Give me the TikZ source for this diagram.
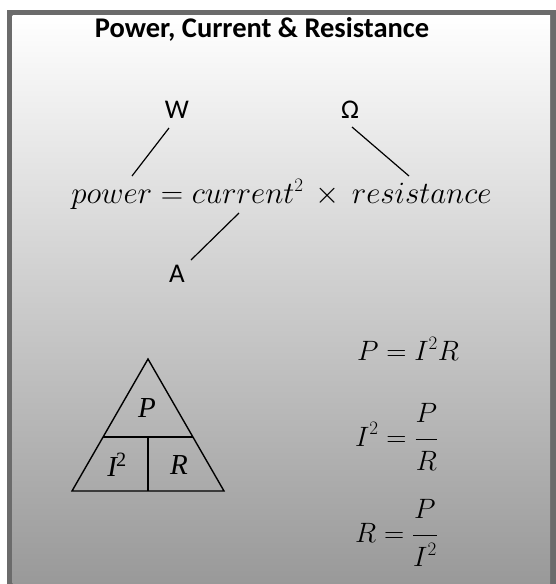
\documentclass[tikz,border=0pt]{standalone}
\usepackage{fix-cm}
\usepackage{fontspec}
\setmainfont{Carlito}
\newfontfamily\timesfont{Liberation Serif}
\newcommand{\sqtwo}{^{\mbox{\fontsize{19}{22}\selectfont$2$}}}
\newcommand{\upfr}[1]{\raisebox{5pt}{$\displaystyle #1$}}
\newcommand{\dnfr}[1]{\raisebox{-5pt}{$\displaystyle #1$}}
\begin{document}
\begin{tikzpicture}[x=1pt,y=-1pt,
  unit/.style={font=\fontsize{27}{32}\selectfont, inner sep=0pt},
  eqn/.style={font=\fontsize{31}{37}\selectfont, inner sep=0pt},
  eqr/.style={font=\fontsize{28}{34}\selectfont, inner sep=0pt},
  tri/.style={font=\fontsize{29}{34}\selectfont\timesfont\itshape, inner sep=0pt},
  link/.style={line width=1.2pt, black},
  triline/.style={line width=1.4pt, black, line join=miter}]
\definecolor{framegray}{HTML}{6B6B6B}
\definecolor{bottomgray}{HTML}{999999}
\useasboundingbox (0,0) rectangle (555,584);
\fill[white] (0,0) rectangle (555,584);
\fill[framegray] (7,10) rectangle (562,590);
\shade[top color=white, bottom color=bottomgray] (12.5,15) rectangle (550,584);
% title
\node[anchor=base, inner sep=0pt, font=\fontsize{28.5}{34}\selectfont\bfseries] (title) at (262,37) {Power, Current \& Resistance};
% units
\node[unit, anchor=base] (W) at (177,118) {W};
\node[unit, anchor=base] (Om) at (350,118) {Ω};
\node[unit, anchor=base] (A) at (177,282) {A};
% main equation
\node[eqn, anchor=base] (main) at (281.5,203) {$power = current\sqtwo \,\times\, resistance$};
\coordinate (wa) at (169,128);
\coordinate (wb) at (132,176);
\coordinate (oa) at (352,127);
\coordinate (ob) at (409,176);
\coordinate (aa) at (239,213);
\coordinate (ab) at (191,260);
\draw[link] (wa) -- (wb);
\draw[link] (oa) -- (ob);
\draw[link] (aa) -- (ab);
% triangle
\coordinate (apex) at (148,359);
\coordinate (bl) at (72,491);
\coordinate (br) at (224,491);
\coordinate (ml) at (103,437);
\coordinate (mr) at (193,437);
\coordinate (mc) at (148,437);
\coordinate (bc) at (148,491);
\draw[triline] (apex) -- (bl) -- (br) -- cycle;
\draw[triline] (ml) -- (mr);
\draw[triline] (mc) -- (bc);
\node[tri] (tP) at (147,408) {P};
\node[tri] (tI) at (117,465) {I\kern-1pt\textsuperscript{\upshape 2}};
\node[tri] (tR) at (179,465) {R};
% right equations
\node[eqr, anchor=base west] (e1) at (357,360) {$P = I\sqtwo R$};
\node[eqr, anchor=west] (e2) at (355,437) {$\displaystyle I\sqtwo = \frac{\upfr{P}}{\dnfr{R}}$};
\node[eqr, anchor=west] (e3) at (355,533) {$\displaystyle R = \frac{\upfr{P}}{\dnfr{I\sqtwo}}$};
\end{tikzpicture}
\end{document}
